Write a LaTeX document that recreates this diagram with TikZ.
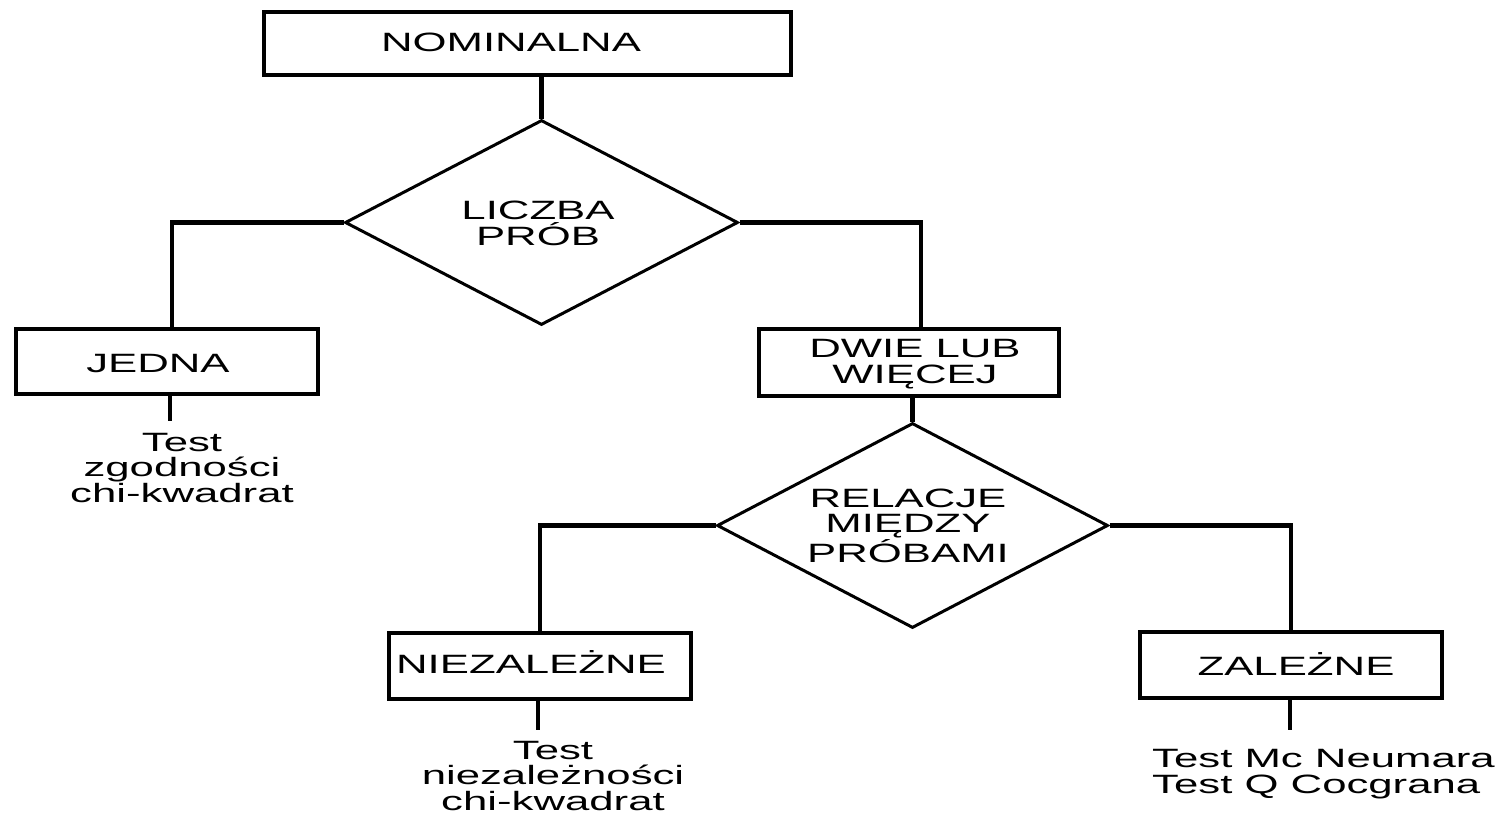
\documentclass[tikz,border=0pt]{standalone}
\usepackage{fontspec}
\setmainfont{Liberation Sans}[FakeStretch=1.65]
\usetikzlibrary{shapes.geometric}
\tikzset{
  box/.style={draw, line width=4pt, inner sep=0pt},
  dia/.style={draw, diamond, line width=3pt, inner sep=0pt},
  conn/.style={draw, line width=4.5pt},
  txt/.style={inner sep=0pt, align=center, font=\fontsize{26.5}{25.5}\selectfont},
}
\begin{document}
\begin{tikzpicture}[x=1pt,y=-1pt]
\useasboundingbox[fill=white] (0,0) rectangle (1496,816);
% boxes
\node[box, minimum width=527pt, minimum height=63pt] (nom) at (527.5,43.5) {};
\node[box, minimum width=302pt, minimum height=65pt] (jedna) at (167,361.5) {};
\node[box, minimum width=300pt, minimum height=67pt] (dwie) at (909,362.5) {};
\node[box, minimum width=302pt, minimum height=66pt] (niez) at (540,666) {};
\node[box, minimum width=302pt, minimum height=66pt] (zal) at (1291,665) {};
% diamonds
\node[dia, minimum width=393pt, minimum height=205pt] (d1) at (541.5,222.5) {};
\node[dia, minimum width=391pt, minimum height=205pt] (d2) at (912.5,525.5) {};
% texts (base anchor = baseline of the last line)
\node[txt, anchor=base] (nomt) at (511,52) {NOMINALNA};
\node[txt, anchor=base] (d1t) at (538,245) {LICZBA\\PRÓB};
\node[txt, anchor=base] (jednat) at (158,372) {JEDNA};
\node[txt, anchor=base] (dwiet) at (915,383) {DWIE LUB\\WIĘCEJ};
\node[txt, anchor=base] (d2t) at (908,562) {RELACJE\\MIĘDZY\\PRÓBAMI};
\node[txt, anchor=base] (nieztt) at (531,673) {NIEZALEŻNE};
\node[txt, anchor=base] (zalt) at (1296,675) {ZALEŻNE};
\node[txt, anchor=base] (leaf1) at (182,502) {Test\\zgodności\\chi-kwadrat};
\node[txt, anchor=base] (leaf2) at (553,810) {Test\\niezależności\\chi-kwadrat};
\node[txt, anchor=base west, align=left] (leaf3) at (1152,793) {Test Mc Neumara\\Test Q Cocgrana};
% leaf line ends
\coordinate (l1) at (170,421);
\coordinate (l2) at (538,730);
\coordinate (l3) at (1290,730);
% connectors
\draw[conn] (nom.south -| d1.north) -- (d1.north);
\draw[conn] (d1.west) -| ([xshift=5pt]jedna.north);
\draw[conn] (d1.east) -| ([xshift=12pt]dwie.north);
\draw[conn] (dwie.south -| d2.north) -- (d2.north);
\draw[conn] (d2.west) -| (niez.north);
\draw[conn] (d2.east) -| (zal.north);
\draw[conn] (jedna.south -| l1) -- (l1);
\draw[conn] (niez.south -| l2) -- (l2);
\draw[conn] (zal.south -| l3) -- (l3);
\end{tikzpicture}
\end{document}
